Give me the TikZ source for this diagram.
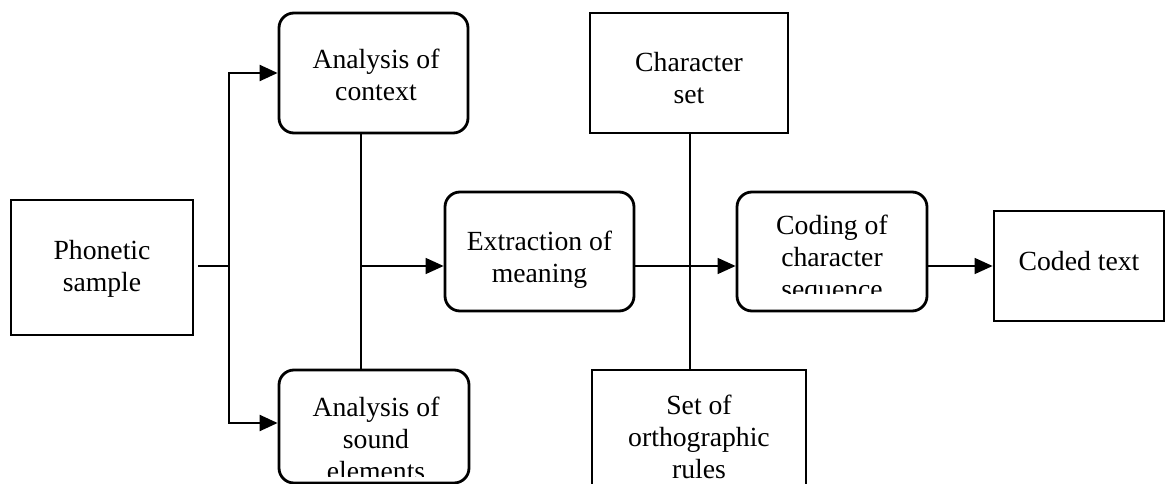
\documentclass[tikz,border=0pt]{standalone}
\usepackage{fontspec}
\setmainfont{Liberation Serif}
\usetikzlibrary{arrows.meta}
\begin{document}
\begin{tikzpicture}[x=1pt,y=-1pt,
  box/.style={draw,line width=2.8pt,inner sep=0pt},
  rbox/.style={box,rounded corners=15pt},
  txt/.style={align=center,inner sep=0pt,anchor=base,font=\fontsize{27.7}{32}\selectfont},
  conn/.style={line width=2.2pt},
  thin/.style={line width=1.5pt},
  tip/.style={-{Triangle[length=18pt,width=16pt]}}]
\useasboundingbox (0,0) rectangle (1168,484);
\clip (0,0) rectangle (1168,484);
% boxes
\node[box,minimum width=182pt,minimum height=135pt] (ps) at (102,267.5) {};
\node[rbox,minimum width=189pt,minimum height=120pt] (ctx) at (373.5,73) {};
\node[rbox,minimum width=190pt,minimum height=113pt] (snd) at (374,426.5) {};
\node[rbox,minimum width=189pt,minimum height=119pt] (ext) at (539.5,251.5) {};
\node[box,minimum width=198pt,minimum height=120pt] (cs) at (689,73) {};
\node[box,minimum width=214pt,minimum height=140pt] (orth) at (699,440) {};
\node[rbox,minimum width=190pt,minimum height=119pt] (cod) at (832,251.5) {};
\node[box,minimum width=170pt,minimum height=110pt] (coded) at (1079,266) {};
% texts (anchor base = baseline of last line)
\node[txt] (tps) at (102,291) {Phonetic\\sample};
\node[txt] (tctx) at (376,101) {Analysis of\\context};
\node[txt] (text) at (539.5,282) {Extraction of\\meaning};
\node[txt] (tcs) at (689,104) {Character\\set};
\node[txt] (torth) at (699,478) {Set of\\orthographic\\rules};
\node[txt] (tcoded) at (1079,270) {Coded text};
\begin{scope}
\clip (279,380) rectangle (469,476);
\node[txt] (tsnd) at (376,480) {Analysis of\\sound\\elements};
\end{scope}
\begin{scope}
\clip (737,200) rectangle (927,293);
\node[txt] (tcod) at (832,298) {Coding of\\character\\sequence};
\end{scope}
% connectors
\coordinate (j1) at (229,266);
\coordinate (j2) at (361,266);
\coordinate (j3) at (690,266);
\draw[conn] ([xshift=4pt]ps.east |- j1) -- (j1);
\draw[conn,tip] (j1) |- (ctx.west);
\draw[conn,tip] (j1) |- ([yshift=3.5pt]snd.west);
\draw[conn] (ctx.south -| j2) -- (snd.north -| j2);
\draw[thin,tip] (j2) -- (ext.west |- j2);
\draw[conn] (cs.south -| j3) -- (orth.north -| j3);
\draw[thin,tip] (ext.east |- j2) -- (cod.west |- j2);
\draw[thin,tip] (cod.east |- j2) -- (coded.west |- j2);
\end{tikzpicture}
\end{document}
